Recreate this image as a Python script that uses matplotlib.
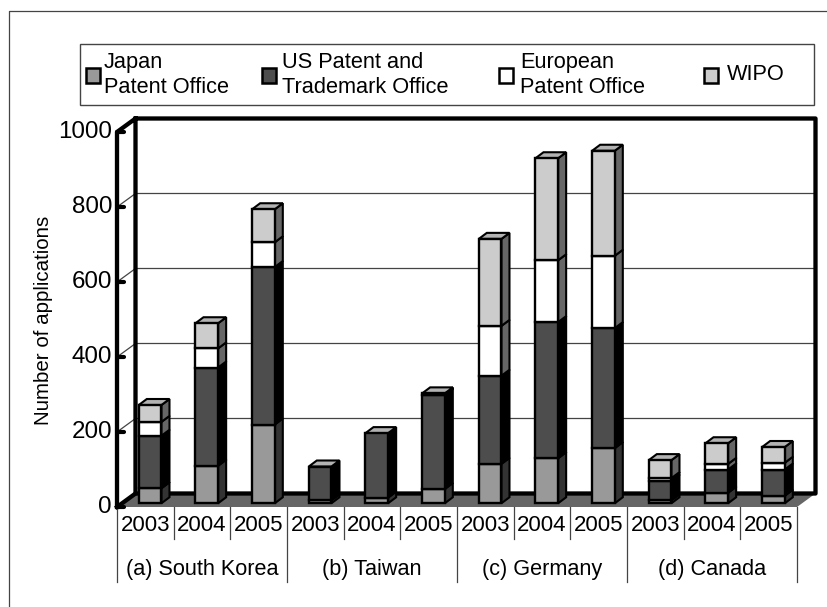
import matplotlib
matplotlib.use('Agg')
import matplotlib.pyplot as plt
from matplotlib.patches import Polygon, Rectangle

plt.rcParams['font.family'] = ['Liberation Sans', 'DejaVu Sans']

# Values per office, one entry per country/year column
years = ['2003', '2004', '2005'] * 4
countries = ['(a) South Korea', '(b) Taiwan', '(c) Germany', '(d) Canada']
japan = [40, 100, 210, 8, 15, 38, 105, 120, 147, 8, 28, 20]
us = [140, 262, 420, 90, 172, 250, 235, 363, 320, 52, 62, 70]
epo = [37, 51, 66, 0, 0, 0, 133, 165, 193, 7, 15, 18]
wipo = [45, 67, 88, 0, 0, 5, 232, 272, 280, 48, 55, 42]

offices = [japan, us, epo, wipo]
front_colors = ['#999999', '#4d4d4d', '#ffffff', '#cccccc']
side_colors = ['#333333', '#000000', '#666666', '#666666']
office_labels = ['Japan\nPatent Office', 'US Patent and\nTrademark Office',
                 'European\nPatent Office', 'WIPO']

W, H = 828, 607
fig = plt.figure(figsize=(W / 100, H / 100), dpi=100)

# outer frame, top and left edges only
fig.add_artist(plt.Line2D([9 / W, 9 / W, 1], [0, 1 - 10.5 / H, 1 - 10.5 / H], transform=fig.transFigure,
                          color='#444444', lw=0.9))

# front plane of the chart
x0, x1, y0, y1 = 117, 797, 507, 132
ax = fig.add_axes([x0 / W, 1 - y0 / H, (x1 - x0) / W, (y0 - y1) / H])
ax.set_xlim(0, 12)
ax.set_ylim(0, 1000)
ax.axis('off')

px = 12 / (x1 - x0)
py = 1000 / (y0 - y1)
depth_x, depth_y = 18.5 * px, 13.5 * py  # wall offset behind the front plane
right = 12 + depth_x
wall_lw = 3.1

# floor and walls
ax.add_patch(Polygon([(0, 0), (depth_x, depth_y), (right, depth_y), (12, 0)], fc='#666666', ec='none',
                     clip_on=False, zorder=1))
for y in [200, 400, 600, 800]:
    ax.plot([0, depth_x, right], [y, y + depth_y, y + depth_y], color='#444444', lw=0.9, clip_on=False, zorder=1)
ax.plot([0, 0, depth_x, right, right, depth_x, depth_x],
        [0, 1000, 1000 + depth_y, 1000 + depth_y, depth_y, depth_y, 1000 + depth_y],
        color='k', lw=wall_lw, clip_on=False, zorder=2, solid_joinstyle='round')
ax.plot([0, depth_x], [0, depth_y], color='k', lw=wall_lw, clip_on=False, zorder=2)

# y ticks on the front edge
for y in range(0, 1001, 200):
    ax.plot([0, 7 * px], [y, y], color='k', lw=3, clip_on=False, zorder=3, solid_capstyle='round')
    ax.text(-5 * px, y, str(y), ha='right', va='center', fontsize=17.4)
ax.text(-73 * px, 497, 'Number of applications', rotation=90, ha='center', va='center', fontsize=14.8)

# stacked columns with side and top faces
bar_w = 0.40
base = 10
bar_dx, bar_dy = 8 * px, 6 * py
for i in range(len(years)):
    xc = i + 0.585
    left = xc - bar_w / 2
    bottom = base
    for vals, fc, sc in zip(offices, front_colors, side_colors):
        v = vals[i]
        if v == 0:
            continue
        ax.bar(xc, v, bar_w, bottom=bottom, color=fc, edgecolor='k', lw=1.7, clip_on=False, zorder=5)
        r = left + bar_w
        ax.add_patch(Polygon([(r, bottom), (r + bar_dx, bottom + bar_dy), (r + bar_dx, bottom + v + bar_dy),
                              (r, bottom + v)], fc=sc, ec='k', lw=1.5, clip_on=False, zorder=4))
        bottom += v
    ax.add_patch(Polygon([(left, bottom), (left + bar_dx, bottom + bar_dy), (left + bar_w + bar_dx, bottom + bar_dy),
                          (left + bar_w, bottom)], fc='#b3b3b3', ec='k', lw=1.5, clip_on=False, zorder=4))

# two-level category axis
for i in range(13):
    drop = 75 * py if i % 3 == 0 else 32 * py
    ax.plot([i, i], [0, -drop], color='#444444', lw=0.9, clip_on=False)
for i, yr in enumerate(years):
    ax.text(i + 0.5, -18.5 * py, yr, ha='center', va='center', fontsize=16)
for i, name in enumerate(countries):
    ax.text(3 * i + 1.5, -62 * py, name, ha='center', va='center', fontsize=15.6)

# legend box
fig.add_artist(Rectangle((80 / W, 1 - 105 / H), 734 / W, 61 / H, transform=fig.transFigure,
                         fc='white', ec='#444444', lw=1))
handle_x = [86, 262, 499, 704]
text_x = [104, 282, 520, 727]
for hx, tx, fc, label in zip(handle_x, text_x, front_colors, office_labels):
    fig.add_artist(Rectangle((hx / W, 1 - 82.5 / H), 14 / W, 14 / H, transform=fig.transFigure,
                             fc=fc, ec='k', lw=1.8))
    fig.text(tx / W, 1 - 75 / H, label, ha='left', va='center', fontsize=15.7, linespacing=1.22)

fig.savefig('out.png', dpi=100)
